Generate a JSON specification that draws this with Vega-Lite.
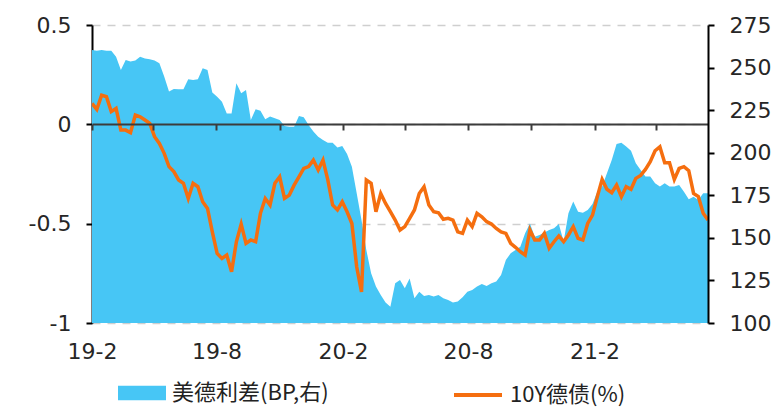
{
 "$schema": "https://vega.github.io/schema/vega-lite/v6.json",
 "width": 616, "height": 298,
 "autosize": "none",
 "padding": {"left": 92, "top": 25, "right": 74, "bottom": 89},
 "background": "white",
 "config": {"view": {"stroke": null}, "axis": {"labelFont": "DejaVu Sans", "labelFontSize": 22, "labelColor": "#262626"}},
 "data": {"values": [
  {"d":"2019-02-01","s":260.3,"b":0.105},{"d":"2019-02-08","s":259.9,"b":0.075},{"d":"2019-02-15","s":260.3,"b":0.147},{"d":"2019-02-22","s":259.9,"b":0.139},
  {"d":"2019-03-01","s":259.9,"b":0.064},{"d":"2019-03-08","s":256.4,"b":0.080},{"d":"2019-03-15","s":248.6,"b":-0.029},{"d":"2019-03-22","s":254.5,"b":-0.029},{"d":"2019-03-29","s":253.5,"b":-0.042},
  {"d":"2019-04-05","s":254.1,"b":0.047},{"d":"2019-04-12","s":256.4,"b":0.038},{"d":"2019-04-19","s":255.4,"b":0.022},{"d":"2019-04-26","s":254.9,"b":0.005},
  {"d":"2019-05-03","s":254.1,"b":-0.062},{"d":"2019-05-10","s":252.5,"b":-0.096},{"d":"2019-05-17","s":244.7,"b":-0.146},{"d":"2019-05-24","s":235.9,"b":-0.213},{"d":"2019-05-31","s":237.4,"b":-0.238},
  {"d":"2019-06-07","s":237.2,"b":-0.280},{"d":"2019-06-14","s":237.2,"b":-0.297},{"d":"2019-06-21","s":243.1,"b":-0.373},{"d":"2019-06-28","s":242.7,"b":-0.297},
  {"d":"2019-07-05","s":243.1,"b":-0.314},{"d":"2019-07-12","s":249.6,"b":-0.390},{"d":"2019-07-19","s":248.6,"b":-0.423},{"d":"2019-07-26","s":235.3,"b":-0.541},
  {"d":"2019-08-02","s":232.9,"b":-0.650},{"d":"2019-08-09","s":230.0,"b":-0.675},{"d":"2019-08-16","s":223.1,"b":-0.658},{"d":"2019-08-23","s":223.1,"b":-0.742},{"d":"2019-08-30","s":240.8,"b":-0.591},
  {"d":"2019-09-06","s":234.9,"b":-0.502},{"d":"2019-09-13","s":236.8,"b":-0.599},{"d":"2019-09-20","s":219.2,"b":-0.582},{"d":"2019-09-27","s":225.5,"b":-0.591},
  {"d":"2019-10-04","s":224.7,"b":-0.448},{"d":"2019-10-11","s":219.6,"b":-0.373},{"d":"2019-10-18","s":221.2,"b":-0.406},{"d":"2019-10-25","s":220.2,"b":-0.297},
  {"d":"2019-11-01","s":219.2,"b":-0.264},{"d":"2019-11-08","s":215.7,"b":-0.373},{"d":"2019-11-15","s":215.3,"b":-0.356},{"d":"2019-11-22","s":215.3,"b":-0.306},{"d":"2019-11-29","s":221.6,"b":-0.264},
  {"d":"2019-12-06","s":220.8,"b":-0.222},{"d":"2019-12-13","s":216.3,"b":-0.213},{"d":"2019-12-20","s":212.4,"b":-0.180},{"d":"2019-12-27","s":209.4,"b":-0.230},
  {"d":"2020-01-03","s":207.5,"b":-0.180},{"d":"2020-01-10","s":205.9,"b":-0.280},{"d":"2020-01-17","s":205.9,"b":-0.406},{"d":"2020-01-24","s":203.0,"b":-0.431},{"d":"2020-01-31","s":204.0,"b":-0.390},
  {"d":"2020-02-07","s":199.3,"b":-0.440},{"d":"2020-02-14","s":191.8,"b":-0.499},{"d":"2020-02-21","s":176.2,"b":-0.717},{"d":"2020-02-28","s":160.5,"b":-0.843},
  {"d":"2020-03-06","s":142.9,"b":-0.280},{"d":"2020-03-13","s":129.2,"b":-0.297},{"d":"2020-03-20","s":121.4,"b":-0.440},{"d":"2020-03-27","s":116.5,"b":-0.348},
  {"d":"2020-04-03","s":112.0,"b":-0.398},{"d":"2020-04-10","s":109.6,"b":-0.440},{"d":"2020-04-17","s":123.3,"b":-0.482},{"d":"2020-04-24","s":125.3,"b":-0.532},
  {"d":"2020-05-01","s":120.4,"b":-0.515},{"d":"2020-05-08","s":126.2,"b":-0.473},{"d":"2020-05-15","s":114.5,"b":-0.431},{"d":"2020-05-22","s":118.4,"b":-0.348},{"d":"2020-05-29","s":115.9,"b":-0.314},
  {"d":"2020-06-05","s":116.5,"b":-0.406},{"d":"2020-06-12","s":115.5,"b":-0.440},{"d":"2020-06-19","s":116.5,"b":-0.445},{"d":"2020-06-26","s":114.5,"b":-0.478},
  {"d":"2020-07-03","s":113.5,"b":-0.473},{"d":"2020-07-10","s":112.0,"b":-0.482},{"d":"2020-07-17","s":112.6,"b":-0.541},{"d":"2020-07-24","s":115.1,"b":-0.549},{"d":"2020-07-31","s":118.4,"b":-0.482},
  {"d":"2020-08-07","s":119.4,"b":-0.515},{"d":"2020-08-14","s":121.4,"b":-0.448},{"d":"2020-08-21","s":122.9,"b":-0.465},{"d":"2020-08-28","s":121.7,"b":-0.490},
  {"d":"2020-09-04","s":123.3,"b":-0.502},{"d":"2020-09-11","s":124.3,"b":-0.524},{"d":"2020-09-18","s":128.2,"b":-0.541},{"d":"2020-09-25","s":137.0,"b":-0.549},
  {"d":"2020-10-02","s":140.9,"b":-0.599},{"d":"2020-10-09","s":142.9,"b":-0.619},{"d":"2020-10-16","s":144.8,"b":-0.641},{"d":"2020-10-23","s":152.7,"b":-0.658},{"d":"2020-10-30","s":158.5,"b":-0.532},
  {"d":"2020-11-06","s":150.7,"b":-0.582},{"d":"2020-11-13","s":151.7,"b":-0.582},{"d":"2020-11-20","s":153.1,"b":-0.549},{"d":"2020-11-27","s":154.6,"b":-0.624},
  {"d":"2020-12-04","s":155.6,"b":-0.591},{"d":"2020-12-11","s":158.2,"b":-0.562},{"d":"2020-12-18","s":147.8,"b":-0.591},{"d":"2020-12-25","s":164.4,"b":-0.557},
  {"d":"2021-01-01","s":171.3,"b":-0.515},{"d":"2021-01-08","s":165.4,"b":-0.574},{"d":"2021-01-15","s":164.8,"b":-0.582},{"d":"2021-01-22","s":166.4,"b":-0.499},{"d":"2021-01-29","s":169.9,"b":-0.457},
  {"d":"2021-02-05","s":177.1,"b":-0.364},{"d":"2021-02-12","s":180.1,"b":-0.277},{"d":"2021-02-19","s":187.9,"b":-0.327},{"d":"2021-02-26","s":195.7,"b":-0.344},
  {"d":"2021-03-05","s":205.1,"b":-0.306},{"d":"2021-03-12","s":205.9,"b":-0.364},{"d":"2021-03-19","s":203.6,"b":-0.314},{"d":"2021-03-26","s":201.2,"b":-0.327},
  {"d":"2021-04-02","s":193.8,"b":-0.272},{"d":"2021-04-09","s":189.9,"b":-0.257},{"d":"2021-04-16","s":186.0,"b":-0.227},{"d":"2021-04-23","s":186.0,"b":-0.188},{"d":"2021-04-30","s":182.0,"b":-0.133},
  {"d":"2021-05-07","s":180.1,"b":-0.113},{"d":"2021-05-14","s":182.0,"b":-0.193},{"d":"2021-05-21","s":180.1,"b":-0.193},{"d":"2021-05-28","s":180.1,"b":-0.277},
  {"d":"2021-06-04","s":181.1,"b":-0.222},{"d":"2021-06-11","s":177.1,"b":-0.213},{"d":"2021-06-18","s":172.6,"b":-0.233},{"d":"2021-06-25","s":174.2,"b":-0.348},
  {"d":"2021-07-02","s":172.2,"b":-0.364},{"d":"2021-07-09","s":176.2,"b":-0.448},{"d":"2021-07-16","s":176.2,"b":-0.482}
 ]},
 "layer": [
  {
   "mark": {"type": "area", "clip": true},
   "encoding": {
    "x": {"field": "d", "type": "temporal",
      "scale": {"domain": [{"year": 2019, "month": 2, "date": 1}, {"year": 2021, "month": 7, "date": 16}]},
      "axis": {"orient": "bottom", "title": null, "domain": false, "ticks": false, "grid": false, "labelPadding": 18, "format": "%y-%-m", "labelFlush": false, "labelOverlap": false,
        "values": [{"year": 2019, "month": 2, "date": 1}, {"year": 2019, "month": 8, "date": 1}, {"year": 2020, "month": 2, "date": 1}, {"year": 2020, "month": 8, "date": 1}, {"year": 2021, "month": 2, "date": 1}]}},
    "y": {"field": "s", "type": "quantitative",
      "scale": {"domain": [100, 275], "nice": false, "zero": false},
      "axis": {"orient": "right", "title": null, "grid": false, "values": [100, 125, 150, 175, 200, 225, 250, 275], "domainColor": "#000000", "domainWidth": 2, "tickColor": "#000000", "tickWidth": 2, "tickSize": 6, "labelPadding": 15, "zindex": 1}},
    "y2": {"datum": 100},
    "fill": {"datum": "美德利差(BP,右)", "scale": {"range": ["#47C6F5"]},
      "legend": {"orient": "none", "legendX": 26, "legendY": 344, "title": null, "padding": 0, "symbolType": "M-1,-0.3H1V0.3H-1Z", "symbolSize": 2304, "symbolStrokeWidth": 0, "symbolOpacity": 1, "labelFont": "Noto Sans CJK SC", "labelFontSize": 22, "labelColor": "#222222", "labelOffset": 6}}
   }
  },
  {
   "mark": {"type": "line", "strokeWidth": 3.5, "clip": true},
   "encoding": {
    "x": {"field": "d", "type": "temporal",
      "axis": {"orient": "top", "offset": -99, "title": null, "labels": false, "grid": false, "domainColor": "#3c3c3c", "domainWidth": 2, "tickColor": "#3c3c3c", "tickWidth": 2, "tickSize": -6, "zindex": 1,
        "values": [{"year": 2019, "month": 2, "date": 1}, {"year": 2019, "month": 5, "date": 1}, {"year": 2019, "month": 8, "date": 1}, {"year": 2019, "month": 11, "date": 1}, {"year": 2020, "month": 2, "date": 1}, {"year": 2020, "month": 5, "date": 1}, {"year": 2020, "month": 8, "date": 1}, {"year": 2020, "month": 11, "date": 1}, {"year": 2021, "month": 2, "date": 1}, {"year": 2021, "month": 5, "date": 1}]}},
    "y": {"field": "b", "type": "quantitative",
      "scale": {"domain": [-1, 0.5], "nice": false, "zero": false},
      "axis": {"orient": "left", "title": null, "values": [-1, -0.5, 0, 0.5], "labelExpr": "'' + datum.value", "grid": true, "gridDash": [8, 7], "gridColor": "#cfcfcf", "gridWidth": 1.3, "domainColor": "#000000", "domainWidth": 2, "tickColor": "#000000", "tickWidth": 2, "tickSize": 6, "labelPadding": 15}},
    "stroke": {"datum": "10Y德债(%)", "scale": {"range": ["#F56E0F"]},
      "legend": {"orient": "none", "legendX": 360, "legendY": 344, "title": null, "padding": 0, "symbolType": "stroke", "symbolSize": 2304, "symbolStrokeWidth": 4, "labelFont": "Noto Sans CJK SC", "labelFontSize": 22, "labelColor": "#222222", "labelOffset": 6}}
   }
  }
 ],
 "resolve": {"scale": {"y": "independent"}, "axis": {"x": "independent"}}
}
